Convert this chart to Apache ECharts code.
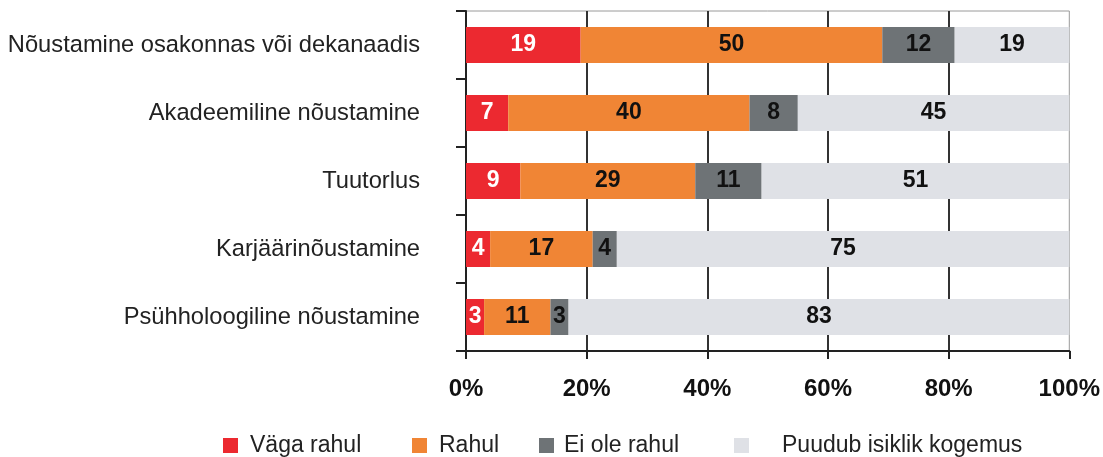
<!DOCTYPE html>
<html><head><meta charset="utf-8">
<script src="https://cdn.jsdelivr.net/npm/echarts@6/dist/echarts.min.js"></script>
<style>html,body{margin:0;padding:0;background:#fff}#c{width:1103px;height:457px}</style>
</head><body><div id="c"></div>
<script>
const categories = ['Nõustamine osakonnas või dekanaadis','Akadeemiline nõustamine','Tuutorlus','Karjäärinõustamine','Psühholoogiline nõustamine'];
const seriesNames = ['Väga rahul','Rahul','Ei ole rahul','Puudub isiklik kogemus'];
const vagaRahul = [19, 7, 9, 4, 3];
const rahul = [50, 40, 29, 17, 11];
const eiOleRahul = [12, 8, 11, 4, 3];
const puudub = [19, 45, 51, 75, 83];
const xTicks = [0, 20, 40, 60, 80, 100];

const colors = ['#EC2930', '#F08535', '#6E7376', '#DFE1E6'];
const labelColors = ['#fff', '#111', '#111', '#111'];
const dataSets = [vagaRahul, rahul, eiOleRahul, puudub];
const FONT = 'Liberation Sans, Arial, sans-serif';

const legendLefts = [223, 412, 539, 734];
const legendPads = [7, 7, 5, 28];

const chart = echarts.init(document.getElementById('c'));
chart.setOption({
  animation: false,
  textStyle: { fontFamily: FONT },
  grid: { left: 466, right: 31, top: 11, bottom: 106, show: true, borderColor: '#9a9a9a', borderWidth: 1 },
  legend: seriesNames.map((n, i) => ({
    data: [n],
    left: legendLefts[i], top: 434,
    padding: 0,
    itemWidth: 15, itemHeight: 15,
    icon: 'rect',
    textStyle: { fontSize: 23, color: '#222', fontFamily: FONT, padding: [0, 0, 0, legendPads[i]] }
  })),
  xAxis: {
    type: 'value', min: 0, max: 100, interval: 20,
    axisLine: { show: true, lineStyle: { color: '#222', width: 2 } },
    axisTick: { show: true, length: 8, lineStyle: { color: '#222', width: 2 } },
    splitLine: { show: true, showMinLine: false, showMaxLine: false, lineStyle: { color: '#333', width: 2 } },
    axisLabel: { formatter: v => xTicks.includes(v) ? v + '%' : '', fontSize: 24, fontWeight: 'bold', color: '#111', margin: 26 }
  },
  yAxis: {
    type: 'category', data: categories, inverse: true,
    axisLine: { show: true, lineStyle: { color: '#222', width: 2 } },
    axisTick: { show: true, length: 10, lineStyle: { color: '#222', width: 2 } },
    axisLabel: { fontSize: 23.7, color: '#222', margin: 46 }
  },
  series: dataSets.map((d, i) => ({
    name: seriesNames[i], type: 'bar', stack: 'all', barWidth: 36,
    itemStyle: { color: colors[i] },
    label: { show: true, position: 'inside', fontSize: 23, fontWeight: 'bold', color: labelColors[i] },
    data: d
  }))
});
</script></body></html>
